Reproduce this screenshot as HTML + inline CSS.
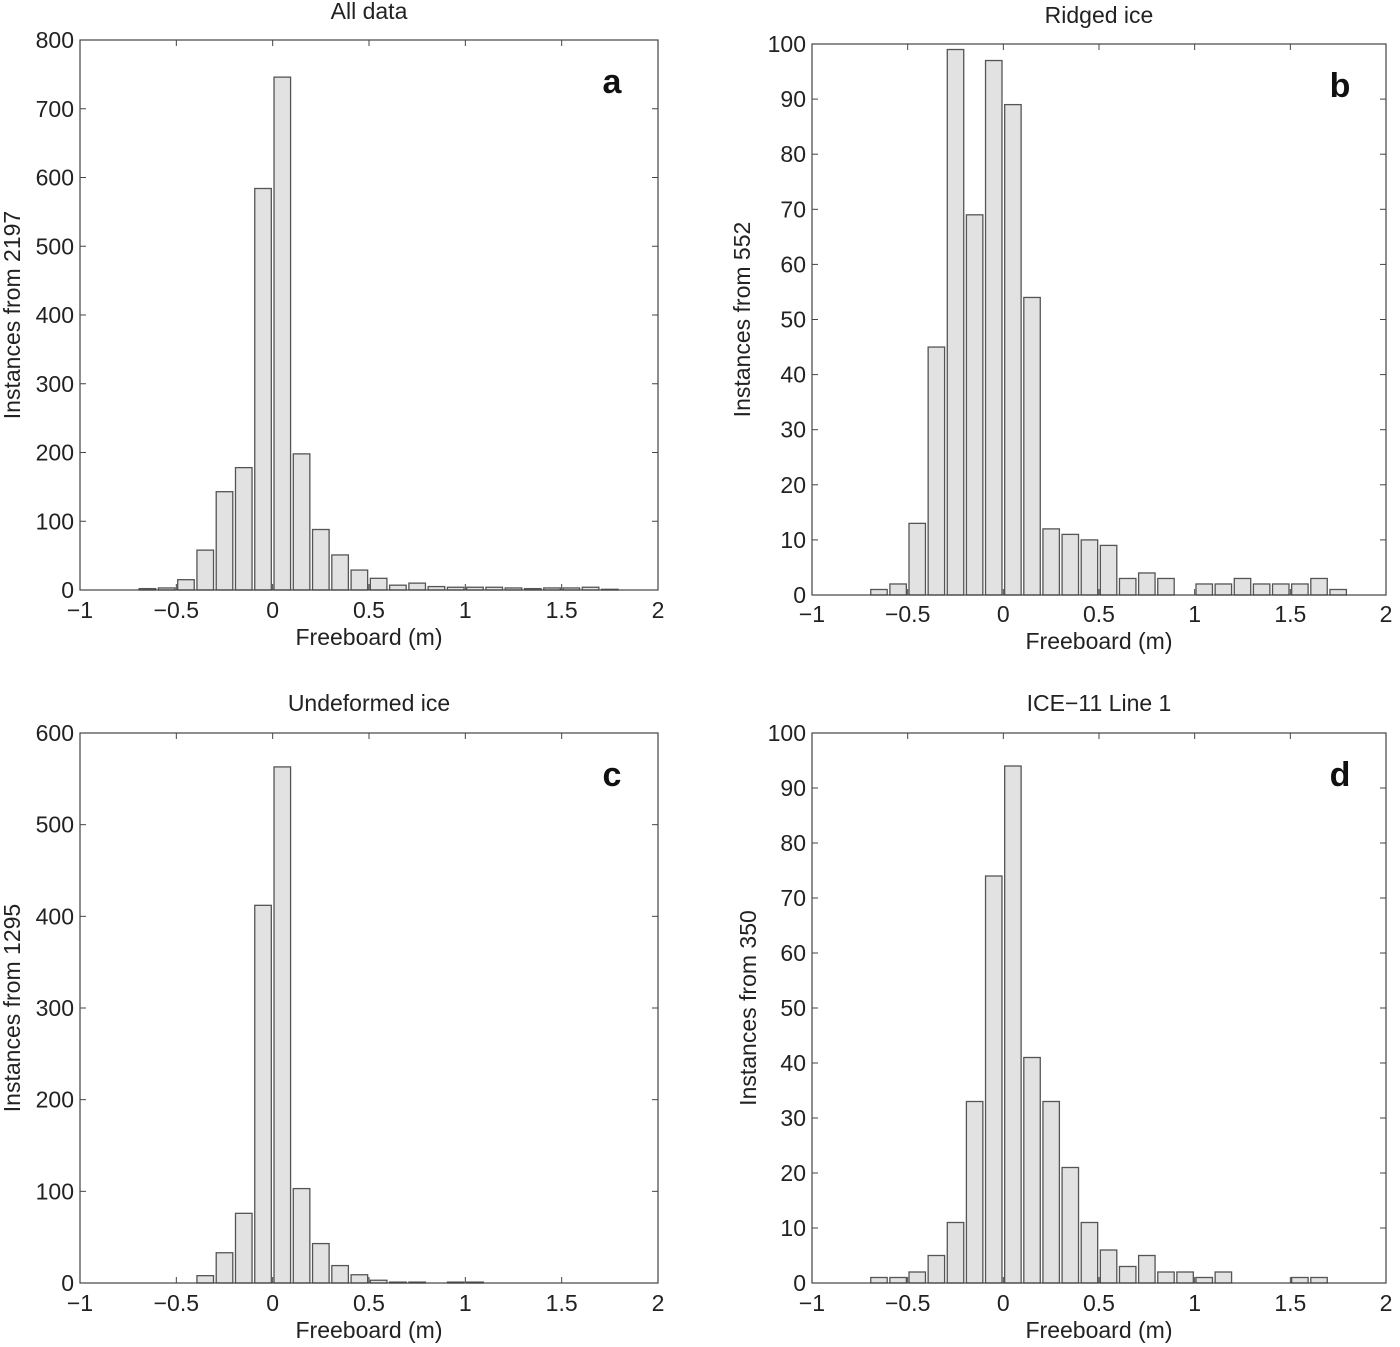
<!DOCTYPE html>
<html><head><meta charset="utf-8">
<style>
html,body{margin:0;padding:0;background:#fff;}
svg{display:block;font-family:"Liberation Sans",Arial,sans-serif;}
</style></head>
<body>
<svg id="fig" width="1400" height="1347" viewBox="0 0 1400 1347"></svg>
<script>
const binCenters = [-0.65,-0.55,-0.45,-0.35,-0.25,-0.15,-0.05,0.05,0.15,0.25,0.35,0.45,0.55,0.65,0.75,0.85,0.95,1.05,1.15,1.25,1.35,1.45,1.55,1.65,1.75];
const countsA = [2,3,15,58,143,178,584,746,198,88,51,29,17,7,10,5,4,4,4,3,2,3,3,4,1];
const countsB = [1,2,13,45,99,69,97,89,54,12,11,10,9,3,4,3,0,2,2,3,2,2,2,3,1];
const countsC = [0,0,0,8,33,76,412,563,103,43,19,9,3,1,1,0,1,1,0,0,0,0,0,0,0];
const countsD = [1,1,2,5,11,33,74,94,41,33,21,11,6,3,5,2,2,1,2,0,0,0,1,1,0];
const xTicks = [-1,-0.5,0,0.5,1,1.5,2];
const xTickLabels = ["\u22121","\u22120.5","0","0.5","1","1.5","2"];
const yTicksA = [0,100,200,300,400,500,600,700,800];
const yTicksB = [0,10,20,30,40,50,60,70,80,90,100];
const yTicksC = [0,100,200,300,400,500,600];
const yTicksD = [0,10,20,30,40,50,60,70,80,90,100];

const NS = "http://www.w3.org/2000/svg";
const svg = document.getElementById('fig');
function mk(tag, attrs, parent){
  const e = document.createElementNS(NS, tag);
  for (const k in attrs) e.setAttribute(k, attrs[k]);
  (parent||svg).appendChild(e);
  return e;
}
const panels = [
  {id:'a', title:'All data', ylab:'Instances from 2197', counts:countsA, yt:yTicksA, ymax:800, x0:80, x1:658, y0:40, y1:590, titleY:19, ylx:20, xtY:618, xlY:645},
  {id:'b', title:'Ridged ice', ylab:'Instances from 552', counts:countsB, yt:yTicksB, ymax:100, x0:812, x1:1386, y0:44, y1:595, titleY:23, ylx:750, xtY:622, xlY:649},
  {id:'c', title:'Undeformed ice', ylab:'Instances from 1295', counts:countsC, yt:yTicksC, ymax:600, x0:80, x1:658, y0:733, y1:1283, titleY:711, ylx:20, xtY:1311, xlY:1338},
  {id:'d', title:'ICE\u221211 Line 1', ylab:'Instances from 350', counts:countsD, yt:yTicksD, ymax:100, x0:812, x1:1386, y0:733, y1:1283, titleY:711, ylx:756, xtY:1311, xlY:1338}
];
panels.forEach(p => {
  const g = mk('g', {});
  
  
  const xs = v => p.x0 + (v + 1) / 3 * (p.x1 - p.x0);
  const ys = v => p.y1 - v / p.ymax * (p.y1 - p.y0);
  binCenters.forEach((c, i) => {
    const v = p.counts[i];
    if (v <= 0) return;
    const r = mk('rect', {x: xs(c - 0.043), y: ys(v), width: xs(c + 0.043) - xs(c - 0.043), height: p.y1 - ys(v), fill: '#e2e2e2', stroke: '#555', 'stroke-width': 1.3}, g);
    
    
  });
  const box = mk('rect', {x: p.x0, y: p.y0, width: p.x1 - p.x0, height: p.y1 - p.y0, fill: 'none', stroke: '#444', 'stroke-width': 1.2}, g);
  
  
  xTicks.forEach((t, i) => {
    const x = xs(t);
    mk('line', {x1: x, x2: x, y1: p.y1, y2: p.y1 - 6, stroke: '#444'}, g);
    mk('line', {x1: x, x2: x, y1: p.y0, y2: p.y0 + 6, stroke: '#444'}, g);
    const tx = mk('text', {x: x, y: p.xtY, 'text-anchor': 'middle', 'font-size': 23, fill: '#222'}, g);
    tx.textContent = xTickLabels[i];
    
    
  });
  p.yt.forEach(t => {
    const y = ys(t);
    mk('line', {x1: p.x0, x2: p.x0 + 6, y1: y, y2: y, stroke: '#444'}, g);
    mk('line', {x1: p.x1, x2: p.x1 - 6, y1: y, y2: y, stroke: '#444'}, g);
    const tx = mk('text', {x: p.x0 - 6, y: y + 8, 'text-anchor': 'end', 'font-size': 23, fill: '#222'}, g);
    tx.textContent = String(t);
    
    
  });
  const ti = mk('text', {x: (p.x0 + p.x1) / 2, y: p.titleY, 'text-anchor': 'middle', 'font-size': 23, fill: '#222'}, g);
  ti.textContent = p.title;
  
  
  const xl = mk('text', {x: (p.x0 + p.x1) / 2, y: p.xlY, 'text-anchor': 'middle', 'font-size': 23, fill: '#222'}, g);
  xl.textContent = 'Freeboard (m)';
  
  
  const yc = (p.y0 + p.y1) / 2;
  const yl = mk('text', {x: p.ylx, y: yc, 'text-anchor': 'middle', 'font-size': 23, fill: '#222', transform: 'rotate(-90 ' + p.ylx + ' ' + yc + ')'}, g);
  yl.textContent = p.ylab;
  
  
  const lt = mk('text', {x: p.x1 - 46, y: p.y0 + 53, 'text-anchor': 'middle', 'font-size': 34, 'font-weight': 'bold', fill: '#111'}, g);
  lt.textContent = p.id;
  
  
});
</script>
</body></html>
